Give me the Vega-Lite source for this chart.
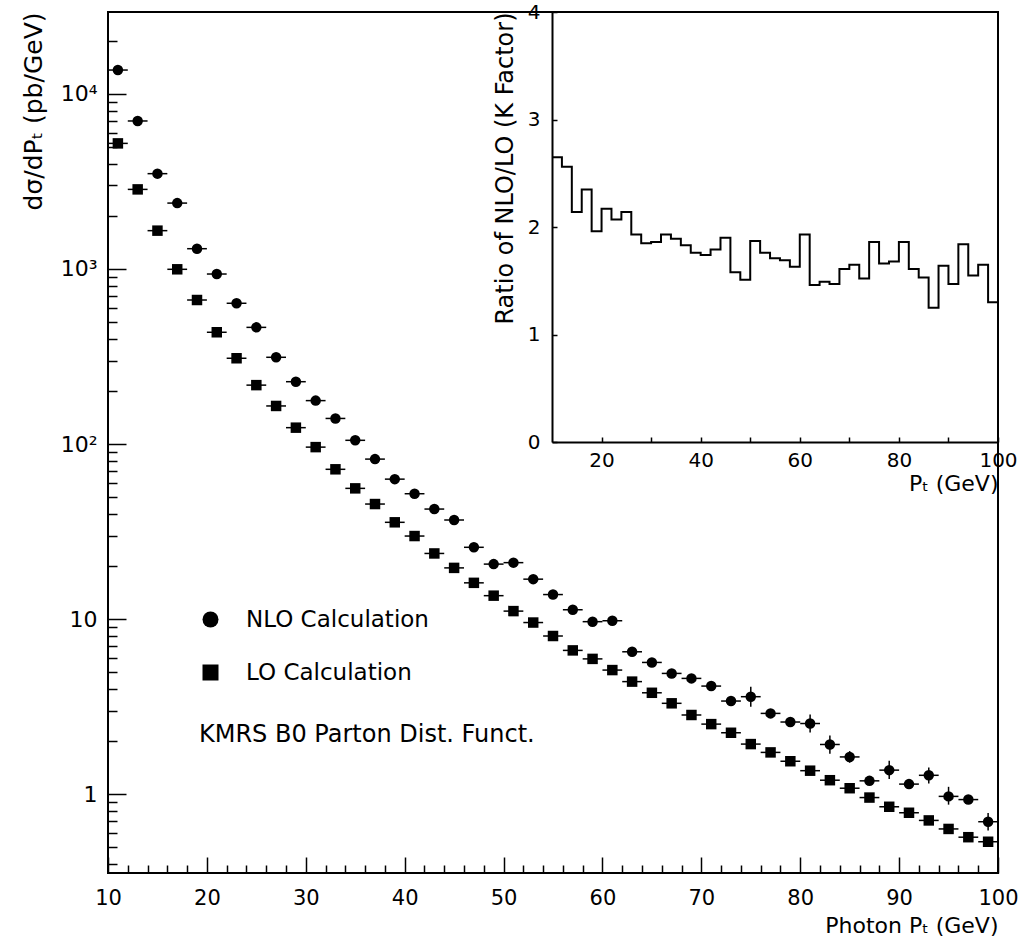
{
  "$schema": "https://vega.github.io/schema/vega-lite/v6.json",
  "width": 890,
  "height": 861,
  "autosize": {"type": "none"},
  "padding": {"left": 108, "top": 12, "right": 29, "bottom": 73},
  "background": "white",
  "config": {
    "font": "DejaVu Sans",
    "view": {"stroke": "black", "strokeWidth": 2},
    "axis": {
      "grid": false,
      "labelFont": "DejaVu Sans",
      "labelFontSize": 20,
      "labelColor": "black",
      "titleFont": "DejaVu Sans",
      "titleFontSize": 22,
      "titleFontWeight": "normal",
      "titleColor": "black",
      "tickColor": "black",
      "tickWidth": 1.5,
      "domainColor": "black",
      "domainWidth": 2,
      "labelOverlap": false,
      "labelFlush": false
    }
  },
  "datasets": {
    "main": [
      {"pt": 11, "lo": 10, "hi": 12, "series": "NLO Calculation", "v": 13700},
      {"pt": 13, "lo": 12, "hi": 14, "series": "NLO Calculation", "v": 7010},
      {"pt": 15, "lo": 14, "hi": 16, "series": "NLO Calculation", "v": 3505},
      {"pt": 17, "lo": 16, "hi": 18, "series": "NLO Calculation", "v": 2380},
      {"pt": 19, "lo": 18, "hi": 20, "series": "NLO Calculation", "v": 1306},
      {"pt": 21, "lo": 20, "hi": 22, "series": "NLO Calculation", "v": 936},
      {"pt": 23, "lo": 22, "hi": 24, "series": "NLO Calculation", "v": 637},
      {"pt": 25, "lo": 24, "hi": 26, "series": "NLO Calculation", "v": 464},
      {"pt": 27, "lo": 26, "hi": 28, "series": "NLO Calculation", "v": 313},
      {"pt": 29, "lo": 28, "hi": 30, "series": "NLO Calculation", "v": 227},
      {"pt": 31, "lo": 30, "hi": 32, "series": "NLO Calculation", "v": 177},
      {"pt": 33, "lo": 32, "hi": 34, "series": "NLO Calculation", "v": 140},
      {"pt": 35, "lo": 34, "hi": 36, "series": "NLO Calculation", "v": 105},
      {"pt": 37, "lo": 36, "hi": 38, "series": "NLO Calculation", "v": 82},
      {"pt": 39, "lo": 38, "hi": 40, "series": "NLO Calculation", "v": 63},
      {"pt": 41, "lo": 40, "hi": 42, "series": "NLO Calculation", "v": 52},
      {"pt": 43, "lo": 42, "hi": 44, "series": "NLO Calculation", "v": 42.5},
      {"pt": 45, "lo": 44, "hi": 46, "series": "NLO Calculation", "v": 36.8},
      {"pt": 47, "lo": 46, "hi": 48, "series": "NLO Calculation", "v": 25.7},
      {"pt": 49, "lo": 48, "hi": 50, "series": "NLO Calculation", "v": 20.6},
      {"pt": 51, "lo": 50, "hi": 52, "series": "NLO Calculation", "v": 21.0},
      {"pt": 53, "lo": 52, "hi": 54, "series": "NLO Calculation", "v": 16.9},
      {"pt": 55, "lo": 54, "hi": 56, "series": "NLO Calculation", "v": 13.8},
      {"pt": 57, "lo": 56, "hi": 58, "series": "NLO Calculation", "v": 11.3},
      {"pt": 59, "lo": 58, "hi": 60, "series": "NLO Calculation", "v": 9.66},
      {"pt": 61, "lo": 60, "hi": 62, "series": "NLO Calculation", "v": 9.78},
      {"pt": 63, "lo": 62, "hi": 64, "series": "NLO Calculation", "v": 6.5},
      {"pt": 65, "lo": 64, "hi": 66, "series": "NLO Calculation", "v": 5.65},
      {"pt": 67, "lo": 66, "hi": 68, "series": "NLO Calculation", "v": 4.89},
      {"pt": 69, "lo": 68, "hi": 70, "series": "NLO Calculation", "v": 4.58},
      {"pt": 71, "lo": 70, "hi": 72, "series": "NLO Calculation", "v": 4.14},
      {"pt": 73, "lo": 72, "hi": 74, "series": "NLO Calculation", "v": 3.40},
      {"pt": 75, "lo": 74, "hi": 76, "series": "NLO Calculation", "v": 3.6, "elo": 3.15, "ehi": 4.1},
      {"pt": 77, "lo": 76, "hi": 78, "series": "NLO Calculation", "v": 2.89},
      {"pt": 79, "lo": 78, "hi": 80, "series": "NLO Calculation", "v": 2.58},
      {"pt": 81, "lo": 80, "hi": 82, "series": "NLO Calculation", "v": 2.53, "elo": 2.25, "ehi": 2.85},
      {"pt": 83, "lo": 82, "hi": 84, "series": "NLO Calculation", "v": 1.92, "elo": 1.70, "ehi": 2.16},
      {"pt": 85, "lo": 84, "hi": 86, "series": "NLO Calculation", "v": 1.63, "elo": 1.51, "ehi": 1.76},
      {"pt": 87, "lo": 86, "hi": 88, "series": "NLO Calculation", "v": 1.19},
      {"pt": 89, "lo": 88, "hi": 90, "series": "NLO Calculation", "v": 1.37, "elo": 1.22, "ehi": 1.55},
      {"pt": 91, "lo": 90, "hi": 92, "series": "NLO Calculation", "v": 1.14},
      {"pt": 93, "lo": 92, "hi": 94, "series": "NLO Calculation", "v": 1.28, "elo": 1.15, "ehi": 1.42},
      {"pt": 95, "lo": 94, "hi": 96, "series": "NLO Calculation", "v": 0.97, "elo": 0.87, "ehi": 1.10},
      {"pt": 97, "lo": 96, "hi": 98, "series": "NLO Calculation", "v": 0.93},
      {"pt": 99, "lo": 98, "hi": 100, "series": "NLO Calculation", "v": 0.695, "elo": 0.62, "ehi": 0.78},
      {"pt": 11, "lo": 10, "hi": 12, "series": "LO Calculation", "v": 5220},
      {"pt": 13, "lo": 12, "hi": 14, "series": "LO Calculation", "v": 2850},
      {"pt": 15, "lo": 14, "hi": 16, "series": "LO Calculation", "v": 1656},
      {"pt": 17, "lo": 16, "hi": 18, "series": "LO Calculation", "v": 996},
      {"pt": 19, "lo": 18, "hi": 20, "series": "LO Calculation", "v": 665},
      {"pt": 21, "lo": 20, "hi": 22, "series": "LO Calculation", "v": 435},
      {"pt": 23, "lo": 22, "hi": 24, "series": "LO Calculation", "v": 309},
      {"pt": 25, "lo": 24, "hi": 26, "series": "LO Calculation", "v": 217},
      {"pt": 27, "lo": 26, "hi": 28, "series": "LO Calculation", "v": 165},
      {"pt": 29, "lo": 28, "hi": 30, "series": "LO Calculation", "v": 124},
      {"pt": 31, "lo": 30, "hi": 32, "series": "LO Calculation", "v": 96},
      {"pt": 33, "lo": 32, "hi": 34, "series": "LO Calculation", "v": 71.7},
      {"pt": 35, "lo": 34, "hi": 36, "series": "LO Calculation", "v": 55.8},
      {"pt": 37, "lo": 36, "hi": 38, "series": "LO Calculation", "v": 45.4},
      {"pt": 39, "lo": 38, "hi": 40, "series": "LO Calculation", "v": 35.7},
      {"pt": 41, "lo": 40, "hi": 42, "series": "LO Calculation", "v": 29.8},
      {"pt": 43, "lo": 42, "hi": 44, "series": "LO Calculation", "v": 23.7},
      {"pt": 45, "lo": 44, "hi": 46, "series": "LO Calculation", "v": 19.6},
      {"pt": 47, "lo": 46, "hi": 48, "series": "LO Calculation", "v": 16.1},
      {"pt": 49, "lo": 48, "hi": 50, "series": "LO Calculation", "v": 13.6},
      {"pt": 51, "lo": 50, "hi": 52, "series": "LO Calculation", "v": 11.1},
      {"pt": 53, "lo": 52, "hi": 54, "series": "LO Calculation", "v": 9.55},
      {"pt": 55, "lo": 54, "hi": 56, "series": "LO Calculation", "v": 8.0},
      {"pt": 57, "lo": 56, "hi": 58, "series": "LO Calculation", "v": 6.62},
      {"pt": 59, "lo": 58, "hi": 60, "series": "LO Calculation", "v": 5.92},
      {"pt": 61, "lo": 60, "hi": 62, "series": "LO Calculation", "v": 5.11},
      {"pt": 63, "lo": 62, "hi": 64, "series": "LO Calculation", "v": 4.39},
      {"pt": 65, "lo": 64, "hi": 66, "series": "LO Calculation", "v": 3.79},
      {"pt": 67, "lo": 66, "hi": 68, "series": "LO Calculation", "v": 3.30},
      {"pt": 69, "lo": 68, "hi": 70, "series": "LO Calculation", "v": 2.83},
      {"pt": 71, "lo": 70, "hi": 72, "series": "LO Calculation", "v": 2.51},
      {"pt": 73, "lo": 72, "hi": 74, "series": "LO Calculation", "v": 2.24},
      {"pt": 75, "lo": 74, "hi": 76, "series": "LO Calculation", "v": 1.93},
      {"pt": 77, "lo": 76, "hi": 78, "series": "LO Calculation", "v": 1.73},
      {"pt": 79, "lo": 78, "hi": 80, "series": "LO Calculation", "v": 1.54},
      {"pt": 81, "lo": 80, "hi": 82, "series": "LO Calculation", "v": 1.36},
      {"pt": 83, "lo": 82, "hi": 84, "series": "LO Calculation", "v": 1.20},
      {"pt": 85, "lo": 84, "hi": 86, "series": "LO Calculation", "v": 1.08},
      {"pt": 87, "lo": 86, "hi": 88, "series": "LO Calculation", "v": 0.955},
      {"pt": 89, "lo": 88, "hi": 90, "series": "LO Calculation", "v": 0.846},
      {"pt": 91, "lo": 90, "hi": 92, "series": "LO Calculation", "v": 0.782},
      {"pt": 93, "lo": 92, "hi": 94, "series": "LO Calculation", "v": 0.707},
      {"pt": 95, "lo": 94, "hi": 96, "series": "LO Calculation", "v": 0.632},
      {"pt": 97, "lo": 96, "hi": 98, "series": "LO Calculation", "v": 0.567},
      {"pt": 99, "lo": 98, "hi": 100, "series": "LO Calculation", "v": 0.534}
    ],
    "kf": [
      {"edge": 10, "k": 2.65}, {"edge": 12, "k": 2.56}, {"edge": 14, "k": 2.14}, {"edge": 16, "k": 2.35},
      {"edge": 18, "k": 1.96}, {"edge": 20, "k": 2.17}, {"edge": 22, "k": 2.07}, {"edge": 24, "k": 2.14},
      {"edge": 26, "k": 1.93}, {"edge": 28, "k": 1.85}, {"edge": 30, "k": 1.86}, {"edge": 32, "k": 1.93},
      {"edge": 34, "k": 1.89}, {"edge": 36, "k": 1.83}, {"edge": 38, "k": 1.76}, {"edge": 40, "k": 1.74},
      {"edge": 42, "k": 1.79}, {"edge": 44, "k": 1.90}, {"edge": 46, "k": 1.58}, {"edge": 48, "k": 1.51},
      {"edge": 50, "k": 1.87}, {"edge": 52, "k": 1.76}, {"edge": 54, "k": 1.71}, {"edge": 56, "k": 1.69},
      {"edge": 58, "k": 1.63}, {"edge": 60, "k": 1.93}, {"edge": 62, "k": 1.46}, {"edge": 64, "k": 1.49},
      {"edge": 66, "k": 1.47}, {"edge": 68, "k": 1.61}, {"edge": 70, "k": 1.65}, {"edge": 72, "k": 1.52},
      {"edge": 74, "k": 1.86}, {"edge": 76, "k": 1.66}, {"edge": 78, "k": 1.68}, {"edge": 80, "k": 1.86},
      {"edge": 82, "k": 1.61}, {"edge": 84, "k": 1.53}, {"edge": 86, "k": 1.25}, {"edge": 88, "k": 1.64},
      {"edge": 90, "k": 1.47}, {"edge": 92, "k": 1.84}, {"edge": 94, "k": 1.55}, {"edge": 96, "k": 1.65},
      {"edge": 98, "k": 1.30}, {"edge": 100, "k": 1.30}
    ]
  },
  "resolve": {"scale": {"x": "independent", "y": "independent"}},
  "layer": [
    {
      "data": {"name": "main"},
      "mark": {"type": "rule", "color": "black", "strokeWidth": 1.5},
      "encoding": {
        "x": {
          "field": "lo", "type": "quantitative",
          "scale": {"domain": [10, 100], "nice": false, "zero": false},
          "axis": {
            "orient": "bottom", "values": [10, 20, 30, 40, 50, 60, 70, 80, 90, 100],
            "format": "d", "tickSize": -16, "labelPadding": 30, "labelFontSize": 21, "domain": false,
            "title": "Photon Pₜ (GeV)", "titleAnchor": "end", "titlePadding": 7
          }
        },
        "x2": {"field": "hi"},
        "y": {
          "field": "v", "type": "quantitative",
          "scale": {"type": "log", "domain": [0.354, 29400], "nice": false},
          "axis": {
            "orient": "left", "values": [1, 10, 100, 1000, 10000],
            "tickSize": -18, "labelPadding": 29, "labelFontSize": 22, "domain": false,
            "labelExpr": "datum.value == 10000 ? '10⁴' : datum.value == 1000 ? '10³' : datum.value == 100 ? '10²' : datum.value == 10 ? '10' : '1'",
            "title": "dσ/dPₜ (pb/GeV)", "titleFontSize": 25, "titleAnchor": "end", "titlePadding": 14
          }
        }
      }
    },
    {
      "data": {"name": "main"},
      "transform": [{"filter": "isValid(datum.elo)"}],
      "mark": {"type": "rule", "color": "black", "strokeWidth": 1.5},
      "encoding": {
        "x": {"field": "pt", "type": "quantitative", "scale": {"domain": [10, 100], "nice": false, "zero": false}, "axis": null},
        "y": {"field": "elo", "type": "quantitative", "scale": {"type": "log", "domain": [0.354, 29400], "nice": false}, "axis": null},
        "y2": {"field": "ehi"}
      }
    },
    {
      "data": {"name": "main"},
      "mark": {"type": "point", "filled": true, "color": "black", "opacity": 1, "size": 110},
      "encoding": {
        "x": {"field": "pt", "type": "quantitative", "scale": {"domain": [10, 100], "nice": false, "zero": false}, "axis": null},
        "y": {"field": "v", "type": "quantitative", "scale": {"type": "log", "domain": [0.354, 29400], "nice": false}, "axis": null},
        "shape": {
          "field": "series", "type": "nominal",
          "scale": {"domain": ["NLO Calculation", "LO Calculation"], "range": ["circle", "square"]},
          "legend": {
            "orient": "none", "legendX": 91, "legendY": 596, "padding": 0,
            "title": "KMRS B0 Parton Dist. Funct.", "titleOrient": "bottom", "titleAnchor": "start",
            "titleFont": "DejaVu Sans", "titleFontSize": 24, "titleFontWeight": "normal", "titleColor": "black", "titlePadding": 38, "titleLimit": 600,
            "labelFont": "DejaVu Sans", "labelFontSize": 23, "labelColor": "black", "labelOffset": 24, "labelLimit": 600,
            "symbolSize": 256, "symbolFillColor": "black", "symbolStrokeColor": "black", "rowPadding": 29
          }
        }
      }
    },
    {
      "data": {"name": "main"},
      "mark": {"type": "point", "opacity": 0},
      "encoding": {
        "x": {
          "field": "pt", "type": "quantitative",
          "scale": {"domain": [10, 100], "nice": false, "zero": false},
          "axis": {
            "orient": "bottom", "values": [12, 14, 16, 18, 22, 24, 26, 28, 32, 34, 36, 38, 42, 44, 46, 48, 52, 54, 56, 58, 62, 64, 66, 68, 72, 74, 76, 78, 82, 84, 86, 88, 92, 94, 96, 98],
            "tickSize": -8, "labels": false, "domain": false, "title": null
          }
        },
        "y": {
          "field": "v", "type": "quantitative",
          "scale": {"type": "log", "domain": [0.354, 29400], "nice": false},
          "axis": {
            "orient": "left", "values": [0.4, 0.5, 0.6, 0.7, 0.8, 0.9, 2, 3, 4, 5, 6, 7, 8, 9, 20, 30, 40, 50, 60, 70, 80, 90, 200, 300, 400, 500, 600, 700, 800, 900, 2000, 3000, 4000, 5000, 6000, 7000, 8000, 9000, 20000],
            "tickSize": -9, "labels": false, "domain": false, "title": null
          }
        }
      }
    },
    {
      "data": {"name": "kf"},
      "mark": {"type": "line", "interpolate": "step-after", "color": "black", "strokeWidth": 2},
      "encoding": {
        "x": {
          "field": "edge", "type": "quantitative",
          "scale": {"domain": [10, 100], "range": [444, 890], "nice": false, "zero": false},
          "axis": {
            "orient": "bottom", "offset": -431, "values": [20, 30, 40, 50, 60, 70, 80, 90, 100],
            "format": "d", "tickSize": -5, "labelPadding": 13,
            "labelExpr": "datum.value % 20 == 0 ? datum.label : ''",
            "title": "Pₜ (GeV)", "titleAnchor": "end", "titlePadding": 3
          }
        },
        "y": {
          "field": "k", "type": "quantitative",
          "scale": {"domain": [0, 4], "range": [430, 0], "nice": false, "zero": true},
          "axis": {
            "orient": "left", "offset": -444, "values": [0, 0.5, 1, 1.5, 2, 2.5, 3, 3.5, 4],
            "format": "d", "tickSize": -5, "labelPadding": 17,
            "labelExpr": "datum.value % 1 == 0 ? datum.label : ''",
            "title": "Ratio of NLO/LO (K Factor)", "titleFontSize": 24, "titleAnchor": "end", "titlePadding": 10
          }
        }
      }
    }
  ]
}
